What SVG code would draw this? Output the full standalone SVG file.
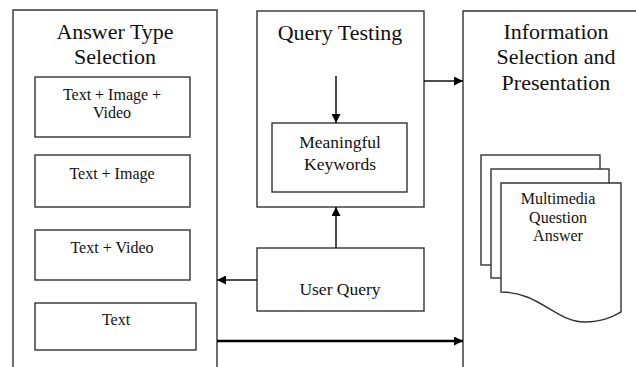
<svg xmlns="http://www.w3.org/2000/svg" width="636" height="367" viewBox="0 0 636 367">
  <style>
    .box { fill: #fff; stroke: #333; stroke-width: 1.4; }
    .line { fill: none; stroke: #111; stroke-width: 1.5; }
    .thick { fill: none; stroke: #000; stroke-width: 2.6; }
    text { font-family: "Liberation Serif", "Times New Roman", serif; fill: #111; text-anchor: middle; }
    .title { font-size: 22px; }
    .item { font-size: 16px; }
    .mid { font-size: 17.5px; }
    .doc { font-size: 16px; }
  </style>
  <defs>
    <marker id="arrow" viewBox="0 0 10 10" refX="10" refY="5" markerWidth="10" markerHeight="9" markerUnits="userSpaceOnUse" orient="auto">
      <path d="M0,0 L10,5 L0,10 z" fill="#000"/>
    </marker>
  </defs>

  <rect width="636" height="367" fill="#fff"/>

  <!-- Answer Type Selection column -->
  <g id="answer-type-selection">
    <path class="box" d="M13,367 V10 H217 V367"/>
    <text class="title" x="115" y="39">Answer Type</text>
    <text class="title" x="115" y="64">Selection</text>
  </g>
  <g id="text-image-video">
    <rect class="box" x="35" y="77" width="155" height="60"/>
    <text class="item" x="112" y="100">Text + Image +</text>
    <text class="item" x="112" y="118">Video</text>
  </g>
  <g id="text-image">
    <rect class="box" x="35" y="155" width="155" height="52"/>
    <text class="item" x="112" y="179">Text + Image</text>
  </g>
  <g id="text-video">
    <rect class="box" x="35" y="230" width="155" height="50"/>
    <text class="item" x="112" y="253">Text + Video</text>
  </g>
  <g id="text-only">
    <rect class="box" x="35" y="303" width="161" height="47"/>
    <text class="item" x="116" y="325">Text</text>
  </g>

  <!-- Query Testing -->
  <g id="query-testing">
    <rect class="box" x="257" y="11" width="167" height="196"/>
    <text class="title" x="340" y="40">Query Testing</text>
  </g>
  <g id="meaningful-keywords">
    <rect class="box" x="272" y="123" width="135" height="69"/>
    <text class="mid" x="340" y="148">Meaningful</text>
    <text class="mid" x="340" y="170">Keywords</text>
  </g>
  <g id="user-query">
    <rect class="box" x="257" y="248" width="167" height="63"/>
    <text class="mid" x="340" y="295">User Query</text>
  </g>

  <!-- Information Selection and Presentation -->
  <g id="information-selection">
    <path class="box" d="M463,367 V11 H636"/>
    <text class="title" x="556" y="39">Information</text>
    <text class="title" x="556" y="64">Selection and</text>
    <text class="title" x="556" y="90">Presentation</text>
  </g>
  <g id="multimedia-answer">
    <rect class="box" x="481" y="155" width="119" height="110"/>
    <rect class="box" x="491" y="169" width="118" height="109"/>
    <path class="box" d="M501,183 H621 V312 C615,315 605,322 585,322 C555,322 540,292 501,292 Z"/>
    <text class="doc" x="558" y="204">Multimedia</text>
    <text class="doc" x="558" y="223">Question</text>
    <text class="doc" x="558" y="241">Answer</text>
  </g>

  <!-- Connectors -->
  <g id="connectors">
    <line class="line" x1="336" y1="76" x2="336" y2="123" marker-end="url(#arrow)"/>
    <line class="line" x1="336" y1="248" x2="336" y2="207" marker-end="url(#arrow)"/>
    <line class="line" x1="257" y1="280" x2="217" y2="280" marker-end="url(#arrow)"/>
    <line class="line" x1="424" y1="81" x2="463" y2="81" marker-end="url(#arrow)"/>
    <line class="thick" x1="217" y1="341" x2="463" y2="341" marker-end="url(#arrow)"/>
  </g>
</svg>
